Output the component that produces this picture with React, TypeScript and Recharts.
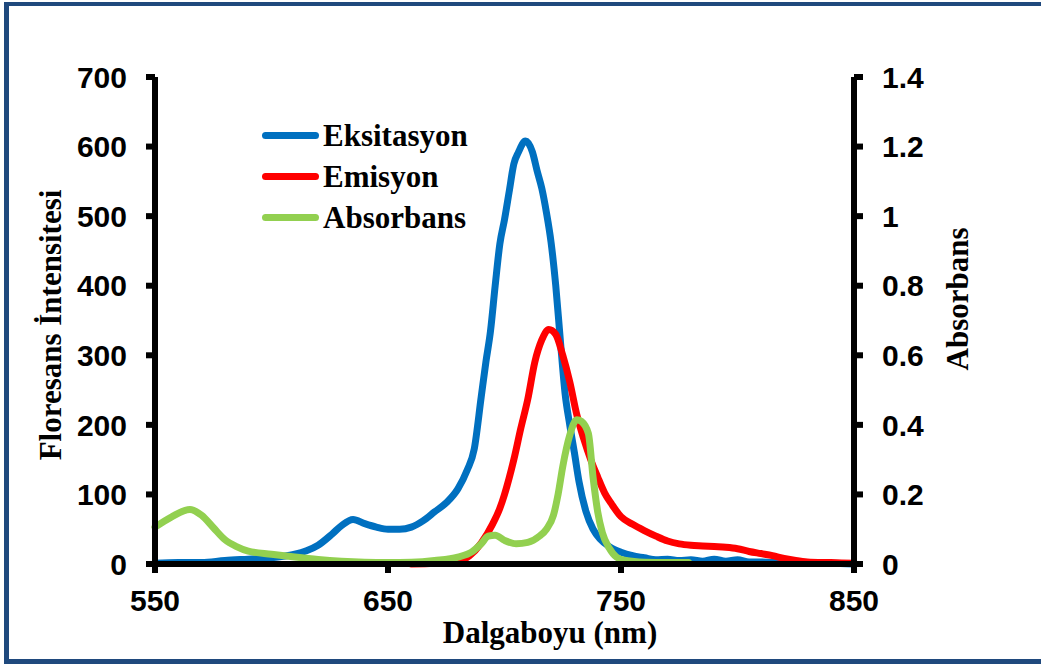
import React from 'react';
import { LineChart, Line, XAxis, YAxis, Legend } from 'recharts';

// Wavelength (nm) and fluorescence intensity, excitation spectrum
const excNm = [
  550, 560, 570, 580, 590, 600, 605, 610, 615, 620, 626, 630, 635, 640, 645, 650, 655, 660, 665, 670,
  675, 680, 684, 687, 690, 692, 694, 696, 698, 700, 702, 704, 706, 709, 712, 714, 716, 718, 720, 722,
  724, 726, 728, 730, 732, 735, 738, 741, 745, 750, 755, 760, 765, 770, 775, 780, 785, 790, 795, 800,
  805, 810, 815, 820, 830, 840, 850,
];
const excVal = [
  1, 2, 2, 5, 7, 9, 11, 14, 19, 27, 43, 55, 64, 58, 53, 50, 50, 53, 62, 75,
  88, 108, 135, 165, 240, 290, 335, 400, 460, 495, 535, 575, 592, 608, 592, 565, 540, 505, 462, 400,
  320, 245, 200, 160, 118, 75, 50, 36, 25, 17, 12, 9, 6, 7, 5, 6, 4, 7, 4, 6,
  3, 3, 2, 2, 1, 1, 0,
];

// Emission spectrum
const emNm = [
  660, 670, 680, 685, 690, 695, 698, 700, 704, 707, 710, 713, 716, 719, 722, 725, 728, 731, 734, 737,
  740, 743, 746, 750, 755, 760, 765, 770, 775, 780, 785, 790, 795, 800, 805, 810, 815, 820, 825, 830,
  840, 850,
];
const emVal = [
  0, 1, 4, 12, 30, 58, 80, 100, 150, 195, 237, 290, 322, 337, 330, 300, 262, 215, 180, 150,
  125, 102, 86, 68, 57, 48, 40, 33, 29, 27, 26, 25, 24, 22, 18, 15, 12, 8, 5, 3,
  2, 1,
];

// Absorbance (right axis)
const absNm = [
  550, 557, 565, 570, 575, 580, 585, 590, 600, 610, 620, 630, 640, 650, 660, 670, 680, 686, 690, 693,
  696, 700, 705, 710, 715, 718, 721, 723, 725, 728, 731, 733, 736, 738, 740, 742, 745, 748, 752, 760,
  770, 779,
];
const absVal = [
  0.106, 0.135, 0.157, 0.14, 0.105, 0.07, 0.05, 0.037, 0.028, 0.02, 0.013, 0.008, 0.005, 0.004, 0.005, 0.01, 0.02, 0.035, 0.058, 0.08,
  0.083, 0.068, 0.058, 0.062, 0.08, 0.1, 0.14, 0.2, 0.28, 0.37, 0.415, 0.41, 0.375, 0.25, 0.15, 0.09, 0.045, 0.02, 0.01, 0.005,
  0.004, 0.004,
];

const seriesNames = ['Eksitasyon', 'Emisyon', 'Absorbans'];
const xTicks = [550, 650, 750, 850];
const leftTicks = [0, 100, 200, 300, 400, 500, 600, 700];
const rightTicks = [0, 0.2, 0.4, 0.6, 0.8, 1, 1.2, 1.4];

const excData = excNm.map((nm, i) => ({ nm, v: excVal[i] }));
const emData = emNm.map((nm, i) => ({ nm, v: emVal[i] }));
const absData = absNm.map((nm, i) => ({ nm, v: absVal[i] }));

const sans = 'Liberation Sans, Arial, sans-serif';
const serif = 'Liberation Serif, Times New Roman, serif';
const tickStyle = { fontSize: 30, fontWeight: 'bold', fill: '#000', fontFamily: sans };
const axisStroke = { stroke: '#000', strokeWidth: 6 };

const titleText = (x: number, y: number, text: string, rotate = 0) => () => (
  <text
    x={x}
    y={y}
    textAnchor="middle"
    dominantBaseline="central"
    transform={rotate ? `rotate(${rotate} ${x} ${y})` : undefined}
    style={{ fontFamily: serif, fontWeight: 'bold', fontSize: 31, fill: '#000' }}
  >
    {text}
  </text>
);

// legend keeps the series order of the workbook
const LegendBox = (props: any) => {
  const items = [...(props.payload || [])].sort(
    (a: any, b: any) => seriesNames.indexOf(a.value) - seriesNames.indexOf(b.value)
  );
  return (
    <div style={{ display: 'flex', flexDirection: 'column' }}>
      {items.map((p: any) => (
        <div key={p.value} style={{ display: 'flex', alignItems: 'center', height: 41 }}>
          <span
            style={{ width: 57, height: 7, borderRadius: 4, background: p.color, marginRight: 4, display: 'inline-block' }}
          />
          <span style={{ fontFamily: serif, fontWeight: 'bold', fontSize: 31, color: '#000', lineHeight: '41px' }}>
            {p.value}
          </span>
        </div>
      ))}
    </div>
  );
};

const App: React.FC = () => {
  return (
    <div style={{ position: 'absolute', left: 0, top: 0, width: 1041, height: 664, background: '#fff', overflow: 'hidden' }}>
      <div
        style={{
          position: 'absolute',
          left: 4,
          top: 2,
          width: 1200,
          height: 662,
          boxSizing: 'border-box',
          borderTop: '4px solid #1F497D',
          borderLeft: '5px solid #1F497D',
          borderBottom: '5px solid #1F497D',
        }}
      />
      <div style={{ position: 'absolute', left: 0, top: 0 }}>
        <LineChart width={1041} height={664} margin={{ top: 77, right: 0, bottom: 0, left: 0 }}>
          <XAxis
            type="number"
            dataKey="nm"
            domain={[550, 850]}
            ticks={xTicks}
            height={100}
            tickSize={9}
            tickMargin={17}
            axisLine={axisStroke}
            tickLine={axisStroke}
            tick={tickStyle}
            allowDuplicatedCategory={false}
            label={titleText(550, 632, 'Dalgaboyu (nm)')}
          />
          <YAxis
            yAxisId="left"
            domain={[0, 700]}
            ticks={leftTicks}
            width={155}
            tickSize={9}
            tickMargin={19}
            axisLine={axisStroke}
            tickLine={axisStroke}
            tick={tickStyle}
            label={titleText(50, 325, 'Floresans İntensitesi', -90)}
          />
          <YAxis
            yAxisId="right"
            orientation="right"
            domain={[0, 1.4]}
            ticks={rightTicks}
            width={187}
            tickSize={9}
            tickMargin={19}
            axisLine={axisStroke}
            tickLine={axisStroke}
            tick={tickStyle}
            label={titleText(957, 299, 'Absorbans', -90)}
          />
          <Legend
            layout="horizontal"
            verticalAlign="middle"
            align="center"
            content={<LegendBox />}
            wrapperStyle={{ left: 262, top: 115, width: 'auto' }}
          />
          <Line
            yAxisId="left"
            data={excData}
            dataKey="v"
            name={seriesNames[0]}
            type="monotone"
            stroke="#0070C0"
            strokeWidth={7}
            strokeLinecap="round"
            strokeLinejoin="round"
            dot={false}
            isAnimationActive={false}
          />
          <Line
            yAxisId="left"
            data={emData}
            dataKey="v"
            name={seriesNames[1]}
            type="monotone"
            stroke="#FF0000"
            strokeWidth={7}
            strokeLinecap="round"
            strokeLinejoin="round"
            dot={false}
            isAnimationActive={false}
          />
          <Line
            yAxisId="right"
            data={absData}
            dataKey="v"
            name={seriesNames[2]}
            type="monotone"
            stroke="#92D050"
            strokeWidth={7}
            strokeLinecap="round"
            strokeLinejoin="round"
            dot={false}
            isAnimationActive={false}
          />
        </LineChart>
      </div>
    </div>
  );
};

export default App;
